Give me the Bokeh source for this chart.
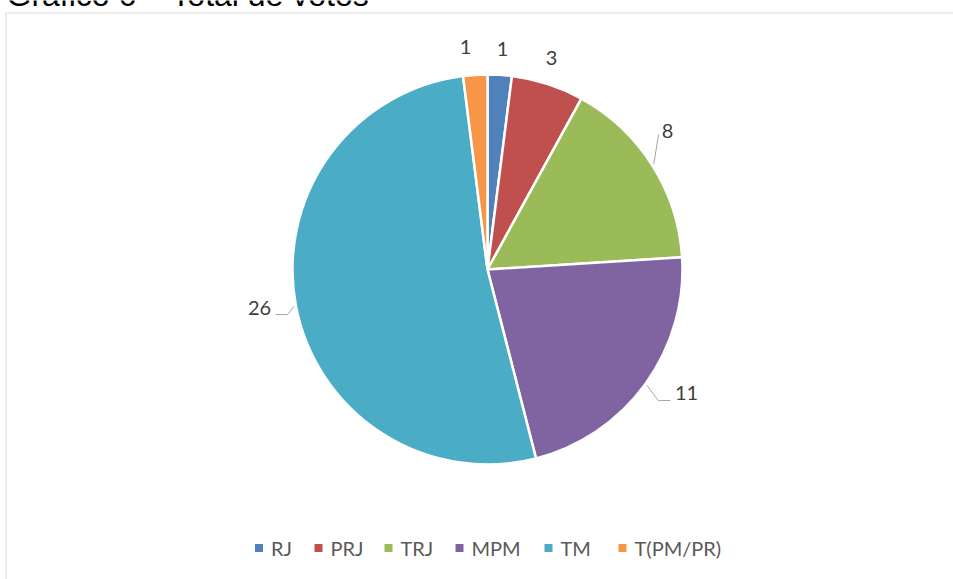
import numpy as np
from bokeh.plotting import figure
from bokeh.models import Range1d
from bokeh.core.properties import value
from bokeh.embed import file_html
from bokeh.resources import INLINE

# ---- data ----
title_text = "Gráfico 6 – Total de votos"
categories = ["RJ", "PRJ", "TRJ", "MPM", "TM", "T(PM/PR)"]
votes = [1, 3, 8, 11, 26, 1]
colors = ["#4F81BD", "#C0504D", "#9BBB59", "#8064A2", "#4BACC6", "#F79646"]

# ---- layout ----
W, H = 953, 579
cx, cy, R = 487, H - 269, 195
label_r = [221.5, 221.4, 226.8, 234.5, 231.3, 224.0]
label_dang = [-0.3, 1.2, 5.1, 4.1, -1.1, 2.0]
# leader lines: (radius, angle offset in degrees) points per slice
leaders = {
    2: [(197, 0.0), (218, 5.9)],
    3: [(197, 0.0), (215.4, -1.5), (225, 0.4)],
    4: [(197, 0.0), (205, 1.9), (216.7, 1.2)],
}
legend_x = [258.5, 318, 388, 459, 548, 622]
legend_y = H - 547.5

p = figure(width=W, height=H, output_backend="svg", toolbar_location=None,
           x_range=Range1d(0, W), y_range=Range1d(0, H), min_border=0,
           x_axis_type=None, y_axis_type=None)
p.grid.visible = False
p.outline_line_color = None
p.background_fill_color = "white"
p.border_fill_color = "white"

# frame
p.line(x=[5.5, 5.5, W + 5], y=[-5, H - 12.5, H - 12.5], line_color="#D9D9D9", line_width=1)

# title (partially cut at top, as in the reference)
p.text(x=[6], y=[H + 6], text=[title_text], text_font=value("Liberation Sans"),
       text_font_size="32px", text_color="black", text_baseline="alphabetic",
       text_align="left")

# pie
total = float(sum(votes))
fr = np.array(votes) / total
cum = np.cumsum(fr)
starts = np.pi / 2 - 2 * np.pi * (cum - fr)
ends = np.pi / 2 - 2 * np.pi * cum
mids = (starts + ends) / 2
p.wedge(x=cx, y=cy, radius=R, start_angle=starts, end_angle=ends,
        direction="clock", fill_color=colors, line_color="white", line_width=2.5)

# data labels
lx = [cx + r * np.cos(m + np.radians(d)) for r, m, d in zip(label_r, mids, label_dang)]
ly = [cy + r * np.sin(m + np.radians(d)) for r, m, d in zip(label_r, mids, label_dang)]
p.text(x=lx, y=ly, text=[str(v) for v in votes], text_font=value("Lato"),
       text_font_size="20px", text_color="#404040", text_align="center",
       text_baseline="middle")

# leader lines
xs, ys = [], []
for i, pts in leaders.items():
    xs.append([cx + r * np.cos(mids[i] + np.radians(d)) for r, d in pts])
    ys.append([cy + r * np.sin(mids[i] + np.radians(d)) for r, d in pts])
p.multi_line(xs=xs, ys=ys, line_color="#A6A6A6", line_width=1)

# legend
p.scatter(x=legend_x, y=[legend_y] * len(categories), marker="square", size=8,
          fill_color=colors, line_color=None)
p.text(x=[x + 12 for x in legend_x], y=[legend_y] * len(categories), text=categories,
       text_font=value("Lato"), text_font_size="20px", text_color="#595959",
       text_align="left", text_baseline="middle")

open("out.html", "w").write(file_html(p, INLINE))
